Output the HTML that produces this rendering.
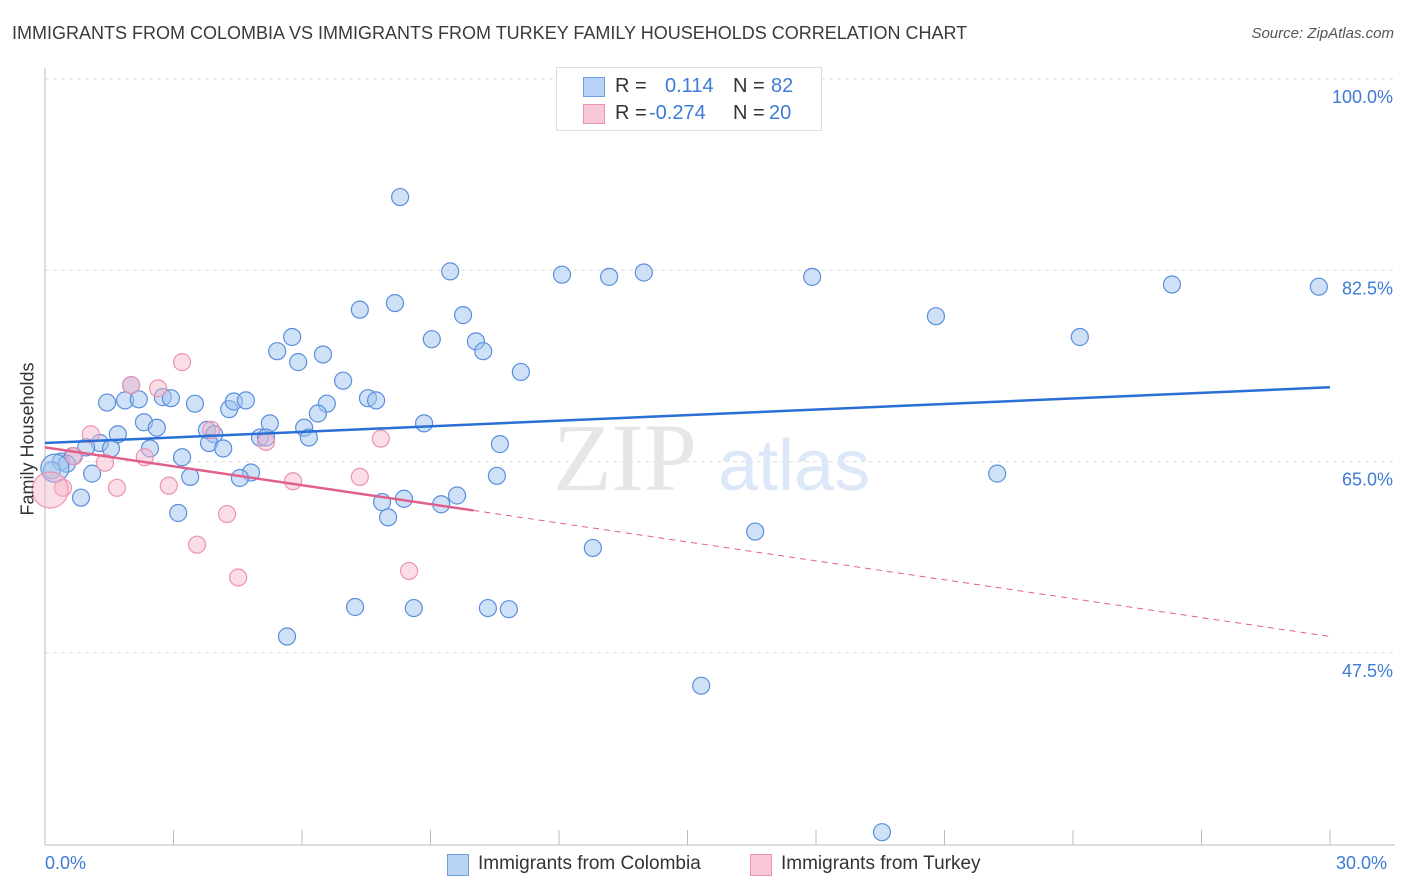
<!DOCTYPE html>
<html><head><meta charset="utf-8"><style>
body{margin:0;background:#fff;font-family:"Liberation Sans",sans-serif}
#wrap{position:relative;width:1406px;height:892px}
.t{position:absolute;white-space:nowrap}
</style></head><body>
<div id="wrap">
<div class="t" style="left:12px;top:23px;font-size:18px;color:#3a3a3a">IMMIGRANTS FROM COLOMBIA VS IMMIGRANTS FROM TURKEY FAMILY HOUSEHOLDS CORRELATION CHART</div>
<div class="t" style="right:12px;top:25px;font-size:15px;color:#555;font-style:italic">Source: ZipAtlas.com</div>
<svg id="svg" width="1406" height="892" style="position:absolute;left:0;top:0"></svg>
</div>
<script>
const xTicksPct=[0,3,6,9,12,15,18,21,24,27,30];
const yTicks=[100,82.5,65,47.5];
const yTickLabels=["100.0%","82.5%","65.0%","47.5%"];
const colombiaX=[8.29,9.46,12.07,13.17,13.98,17.91,26.31,29.74,20.80,24.16,7.35,8.17,9.76,9.03,10.06,10.23,5.77,5.42,5.91,6.49,11.11,6.96,2.01,1.45,1.87,2.19,2.75,2.94,3.50,4.30,4.41,4.69,6.58,6.37,7.54,7.73,5.25,2.31,2.61,1.70,3.78,3.95,6.05,6.16,5.02,5.16,8.85,10.62,1.28,0.96,1.54,2.45,3.83,4.16,3.20,0.65,0.37,0.51,0.16,1.10,3.39,4.81,4.55,10.55,22.23,0.84,3.11,7.87,8.38,9.62,9.25,8.01,12.79,16.58,7.24,8.61,10.34,10.83,5.65,15.32,19.54];
const colombiaY=[89.2,82.4,82.1,81.9,82.3,81.9,81.2,81.0,78.3,76.4,78.9,79.5,78.4,76.2,76.0,75.1,76.4,75.1,74.1,74.8,73.2,72.4,72.0,70.4,70.6,70.7,70.9,70.8,70.3,69.8,70.5,70.6,70.3,69.4,70.8,70.6,68.5,68.6,68.1,67.5,67.9,67.5,68.1,67.2,67.2,67.2,68.5,66.6,66.7,66.3,66.2,66.2,66.7,66.2,65.4,65.5,65.0,64.8,64.2,63.9,63.6,64.0,63.5,63.7,63.9,61.7,60.3,61.3,61.6,61.9,61.1,59.9,57.1,58.6,51.7,51.6,51.6,51.5,49.0,44.5,31.1];
const turkeyX=[3.20,2.01,2.64,1.07,0.68,1.40,0.42,1.68,2.33,2.89,3.88,5.16,5.79,7.35,7.84,3.55,4.25,4.51,8.50];
const turkeyY=[74.1,72.0,71.7,67.5,65.5,64.9,62.6,62.6,65.4,62.8,67.9,66.8,63.2,63.6,67.1,57.4,60.2,54.4,55.0];
const colombiaBig=[0.23,64.4];
const turkeyBig=[0.12,62.4];
const colombiaTrend=[66.7,71.8]; // at 0% and 30%
const turkeyTrend=[66.3,49.0];   // at 0% and 30%
const turkeySolidEnd=10;

const X=v=>45+v/30*1285;
const Y=v=>79+(100-v)/17.5*191.3;
const svg=document.getElementById('svg');
const NS='http://www.w3.org/2000/svg';
function mk(tag,attrs,name){const e=document.createElementNS(NS,tag);for(const k in attrs)e.setAttribute(k,attrs[k]);


svg.appendChild(e);return e;}
// gridlines
yTicks.forEach((v,i)=>{
 mk('line',{x1:45,x2:1395,y1:Y(v),y2:Y(v),stroke:'#ddd','stroke-dasharray':'4,4'},'gridline');
 const t=mk('text',{x:1393,y:Y(v)+24,'text-anchor':'end','font-size':18,fill:'#3d7bd6','font-family':'Liberation Sans'},'y-tick-label');t.textContent=yTickLabels[i];
});
mk('line',{x1:45,x2:45,y1:68,y2:845,stroke:'#bbb'},'y-axis');
mk('line',{x1:45,x2:1395,y1:845,y2:845,stroke:'#bbb'},'x-axis');
xTicksPct.forEach(v=>mk('line',{x1:X(v),x2:X(v),y1:830,y2:845,stroke:'#bbb'},'x-tick'));
// watermark
let w=mk('text',{x:553,y:490,'font-size':96,fill:'#e6e6e6','font-family':'Liberation Serif'},'watermark-zip');w.textContent='ZIP';
w=mk('text',{x:718,y:490,'font-size':72,fill:'#dce8f7','font-family':'Liberation Sans'},'watermark-atlas');w.textContent='atlas';
// points
colombiaX.forEach((x,i)=>mk('circle',{cx:X(x),cy:Y(colombiaY[i]),r:8.5,fill:'rgba(160,196,240,0.5)',stroke:'#5b8fdc','stroke-width':1.2},'colombia-point'));
mk('circle',{cx:X(colombiaBig[0]),cy:Y(colombiaBig[1]),r:14,fill:'rgba(160,196,240,0.5)',stroke:'#5b8fdc','stroke-width':1.2},'colombia-point');
turkeyX.forEach((x,i)=>mk('circle',{cx:X(x),cy:Y(turkeyY[i]),r:8.5,fill:'rgba(246,180,200,0.45)',stroke:'#ec93b0','stroke-width':1.2},'turkey-point'));
mk('circle',{cx:X(turkeyBig[0]),cy:Y(turkeyBig[1]),r:18,fill:'rgba(246,180,200,0.45)',stroke:'#ec93b0','stroke-width':1.2},'turkey-point');
// trends
mk('line',{x1:X(0),y1:Y(colombiaTrend[0]),x2:X(30),y2:Y(colombiaTrend[1]),stroke:'#2a6fd6','stroke-width':2.5},'colombia-trendline');
const tAt=x=>turkeyTrend[0]+(turkeyTrend[1]-turkeyTrend[0])*x/30;
mk('line',{x1:X(0),y1:Y(tAt(0)),x2:X(turkeySolidEnd),y2:Y(tAt(turkeySolidEnd)),stroke:'#e0608a','stroke-width':2.5},'turkey-trendline');
mk('line',{x1:X(turkeySolidEnd),y1:Y(tAt(turkeySolidEnd)),x2:X(30),y2:Y(tAt(30)),stroke:'#e0608a','stroke-width':1,'stroke-dasharray':'6,5'},'turkey-trendline-extension');
</script>
<div class="t" style="left:-32px;top:445px;font-size:18px;color:#333;transform:rotate(-90deg);transform-origin:center;width:120px;text-align:center">Family Households</div>
<div class="t" style="left:45px;top:853px;font-size:18px;color:#3d7bd6">0.0%</div>
<div class="t" style="left:1336px;top:853px;font-size:18px;color:#3d7bd6">30.0%</div>
<div style="position:absolute;left:556px;top:67px;width:264px;height:62px;border:1px solid #ddd;background:#fff;font-size:20px;color:#333">
 <div style="position:absolute;left:26px;top:9px;width:20px;height:18px;background:#b9d3f5;border:1px solid #6f9ee0"></div>
 <div class="t" style="left:58px;top:7px">R = </div><div class="t" style="left:108px;top:7px;color:#3d7bd6">0.114</div>
 <div class="t" style="left:176px;top:7px">N = </div><div class="t" style="left:214px;top:7px;color:#3d7bd6">82</div>
 <div style="position:absolute;left:26px;top:36px;width:20px;height:18px;background:#f8c8d7;border:1px solid #ec93b0"></div>
 <div class="t" style="left:58px;top:34px">R = </div><div class="t" style="left:92px;top:34px;color:#3d7bd6">-0.274</div>
 <div class="t" style="left:176px;top:34px">N = </div><div class="t" style="left:212px;top:34px;color:#3d7bd6">20</div>
</div>
<div style="position:absolute;left:447px;top:853px;font-size:19px;color:#333">
 <div style="position:absolute;left:0;top:1px;width:20px;height:20px;background:#b9d3f5;border:1px solid #6f9ee0"></div>
 <div class="t" style="left:31px;top:0">Immigrants from Colombia</div></div>
<div style="position:absolute;left:750px;top:853px;font-size:19px;color:#333">
 <div style="position:absolute;left:0;top:1px;width:20px;height:20px;background:#f8c8d7;border:1px solid #ec93b0"></div>
 <div class="t" style="left:31px;top:0">Immigrants from Turkey</div></div>
</body></html>
